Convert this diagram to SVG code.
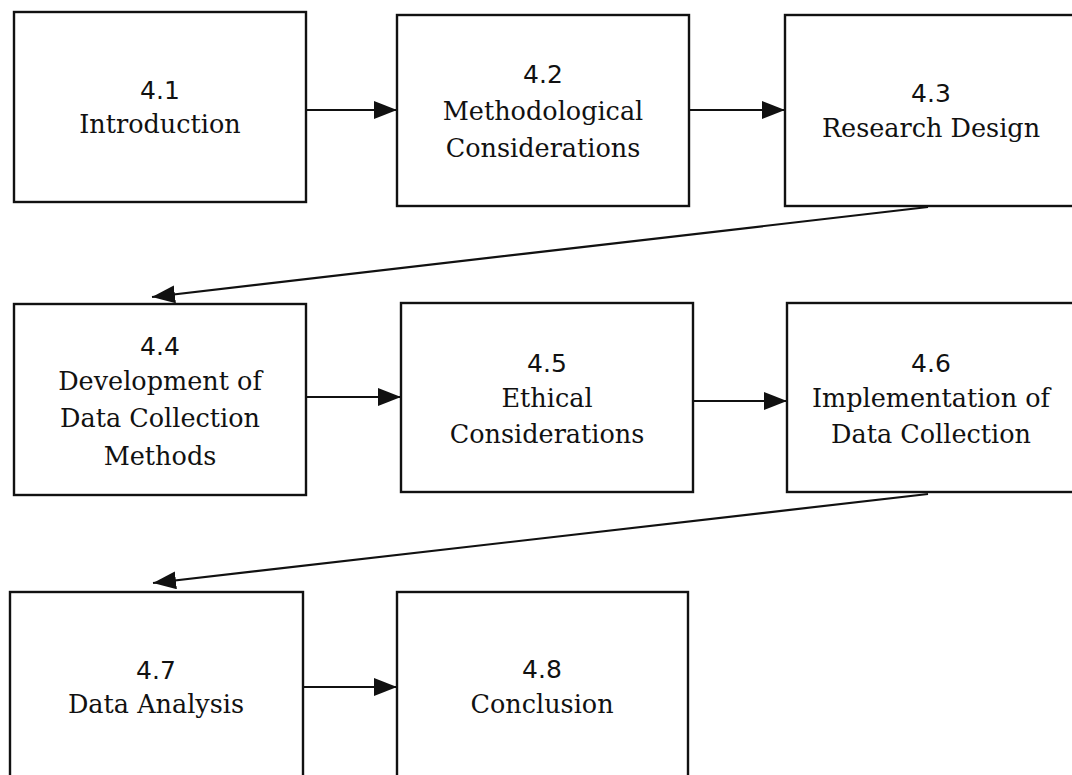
<svg xmlns="http://www.w3.org/2000/svg" width="1072" height="775" viewBox="0 0 1072 775">
  <style>
    .box { fill: #ffffff; stroke: #111111; stroke-width: 2.4; }
    .num { font-family: "DejaVu Sans", "Liberation Sans", sans-serif; font-size: 25px; fill: #111111; text-anchor: middle; }
    .lbl { font-family: "DejaVu Serif", "Liberation Serif", serif; font-size: 25.5px; fill: #111111; text-anchor: middle; }
    .edge { fill: none; stroke: #111111; stroke-width: 2.2; marker-end: url(#head); }
  </style>
  <defs>
    <marker id="head" markerUnits="userSpaceOnUse" markerWidth="24" markerHeight="18" refX="23" refY="9" orient="auto">
      <path d="M0,0 L23,9 L0,18 Z" fill="#111111"/>
    </marker>
  </defs>
  <rect width="1072" height="775" fill="#ffffff"/>

  <!-- connectors -->
  <g id="connectors">
    <line class="edge" x1="306" y1="110" x2="397" y2="110"/>
    <line class="edge" x1="689" y1="110" x2="785" y2="110"/>
    <line class="edge" x1="928" y1="207" x2="152" y2="297"/>
    <line class="edge" x1="306" y1="397" x2="401" y2="397"/>
    <line class="edge" x1="693" y1="401" x2="787" y2="401"/>
    <line class="edge" x1="928" y1="494" x2="153" y2="583"/>
    <line class="edge" x1="303" y1="687" x2="397" y2="687"/>
  </g>

  <g id="n41">
    <rect class="box" x="14" y="12" width="292" height="190"/>
    <text class="num" x="160" y="99">4.1</text>
    <text class="lbl" x="160" y="133">Introduction</text>
  </g>
  <g id="n42">
    <rect class="box" x="397" y="15" width="292" height="191"/>
    <text class="num" x="543" y="83">4.2</text>
    <text class="lbl" x="543" y="120">Methodological</text>
    <text class="lbl" x="543" y="157">Considerations</text>
  </g>
  <g id="n43">
    <rect class="box" x="785" y="15" width="292" height="191"/>
    <text class="num" x="931" y="102">4.3</text>
    <text class="lbl" x="931" y="137">Research Design</text>
  </g>
  <g id="n44">
    <rect class="box" x="14" y="304" width="292" height="191"/>
    <text class="num" x="160" y="355">4.4</text>
    <text class="lbl" x="160" y="390">Development of</text>
    <text class="lbl" x="160" y="427">Data Collection</text>
    <text class="lbl" x="160" y="465">Methods</text>
  </g>
  <g id="n45">
    <rect class="box" x="401" y="303" width="292" height="189"/>
    <text class="num" x="547" y="372">4.5</text>
    <text class="lbl" x="547" y="407">Ethical</text>
    <text class="lbl" x="547" y="443">Considerations</text>
  </g>
  <g id="n46">
    <rect class="box" x="787" y="303" width="292" height="189"/>
    <text class="num" x="931" y="372">4.6</text>
    <text class="lbl" x="931" y="407">Implementation of</text>
    <text class="lbl" x="931" y="443">Data Collection</text>
  </g>
  <g id="n47">
    <rect class="box" x="10" y="592" width="293" height="191"/>
    <text class="num" x="156" y="679">4.7</text>
    <text class="lbl" x="156" y="713">Data Analysis</text>
  </g>
  <g id="n48">
    <rect class="box" x="397" y="592" width="291" height="191"/>
    <text class="num" x="542" y="678">4.8</text>
    <text class="lbl" x="542" y="713">Conclusion</text>
  </g>
</svg>
